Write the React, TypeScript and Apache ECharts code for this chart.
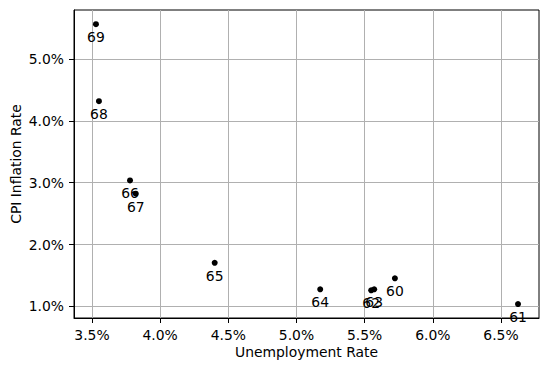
import React, { useEffect, useRef } from "react";
import * as echarts from "echarts";

const years: string[] = ["60", "61", "62", "63", "64", "65", "66", "67", "68", "69"];
const unemployment: number[] = [5.722, 6.625, 5.548, 5.57, 5.174, 4.4, 3.779, 3.821, 3.551, 3.529];
const inflation: number[] = [1.453, 1.037, 1.259, 1.275, 1.275, 1.704, 3.037, 2.822, 4.319, 5.564];
const xTicks: number[] = [3.5, 4.0, 4.5, 5.0, 5.5, 6.0, 6.5];
const yTicks: number[] = [1.0, 2.0, 3.0, 4.0, 5.0];

const FONT = "DejaVu Sans";

export default function App() {
  const ref = useRef<HTMLDivElement>(null);
  useEffect(() => {
    if (!ref.current) return;
    const chart = echarts.init(ref.current, null, { renderer: "svg" });
    const data = years.map((y, i) => ({ value: [unemployment[i], inflation[i]], name: y }));
    chart.setOption({
      animation: false,
      backgroundColor: "#ffffff",
      textStyle: { fontFamily: FONT },
      grid: {
        left: 74,
        right: 10,
        top: 10,
        bottom: 53,
        containLabel: false,
        outerBoundsMode: "none",
        show: true,
        borderColor: "#000000",
        borderWidth: 1,
        backgroundColor: "transparent",
      },
      xAxis: {
        type: "value",
        min: 3.368,
        max: 6.779,
        name: "Unemployment Rate",
        nameLocation: "middle",
        nameGap: 27,
        nameMoveOverlap: false,
        nameTextStyle: { color: "#000", fontSize: 13.9, fontFamily: FONT },
        axisLine: { show: true, onZero: false, lineStyle: { color: "#000", width: 1 } },
        axisTick: { show: true, length: 5, lineStyle: { color: "#000", width: 1 }, customValues: xTicks },
        axisLabel: {
          color: "#000",
          fontSize: 13.9,
          fontFamily: FONT,
          margin: 10,
          customValues: xTicks,
          formatter: (v: number) => v.toFixed(1) + "%",
        },
        splitLine: { show: true, lineStyle: { color: "#b0b0b0", width: 1 } },
      },
      yAxis: {
        type: "value",
        min: 0.811,
        max: 5.794,
        name: "CPI Inflation Rate",
        nameLocation: "middle",
        nameGap: 51,
        nameMoveOverlap: false,
        nameTextStyle: { color: "#000", fontSize: 13.9, fontFamily: FONT },
        axisLine: { show: true, onZero: false, lineStyle: { color: "#000", width: 1 } },
        axisTick: { show: true, length: 5, lineStyle: { color: "#000", width: 1 }, customValues: yTicks },
        axisLabel: {
          color: "#000",
          fontSize: 13.9,
          fontFamily: FONT,
          margin: 10,
          customValues: yTicks,
          formatter: (v: number) => v.toFixed(1) + "%",
        },
        splitLine: { show: true, lineStyle: { color: "#b0b0b0", width: 1 } },
      },
      series: [
        {
          type: "scatter",
          data,
          symbol: "circle",
          symbolSize: 6,
          itemStyle: { color: "#000000", opacity: 1 },
          label: {
            show: true,
            position: "bottom",
            distance: 3,
            formatter: (p: any) => p.name,
            color: "#000",
            fontSize: 13.9,
            fontFamily: FONT,
          },
        },
      ],
    });
    return () => chart.dispose();
  }, []);
  return (
    <div
      ref={ref}
      style={{ position: "fixed", left: 0, top: 0, width: 549, height: 371, background: "#fff" }}
    />
  );
}
